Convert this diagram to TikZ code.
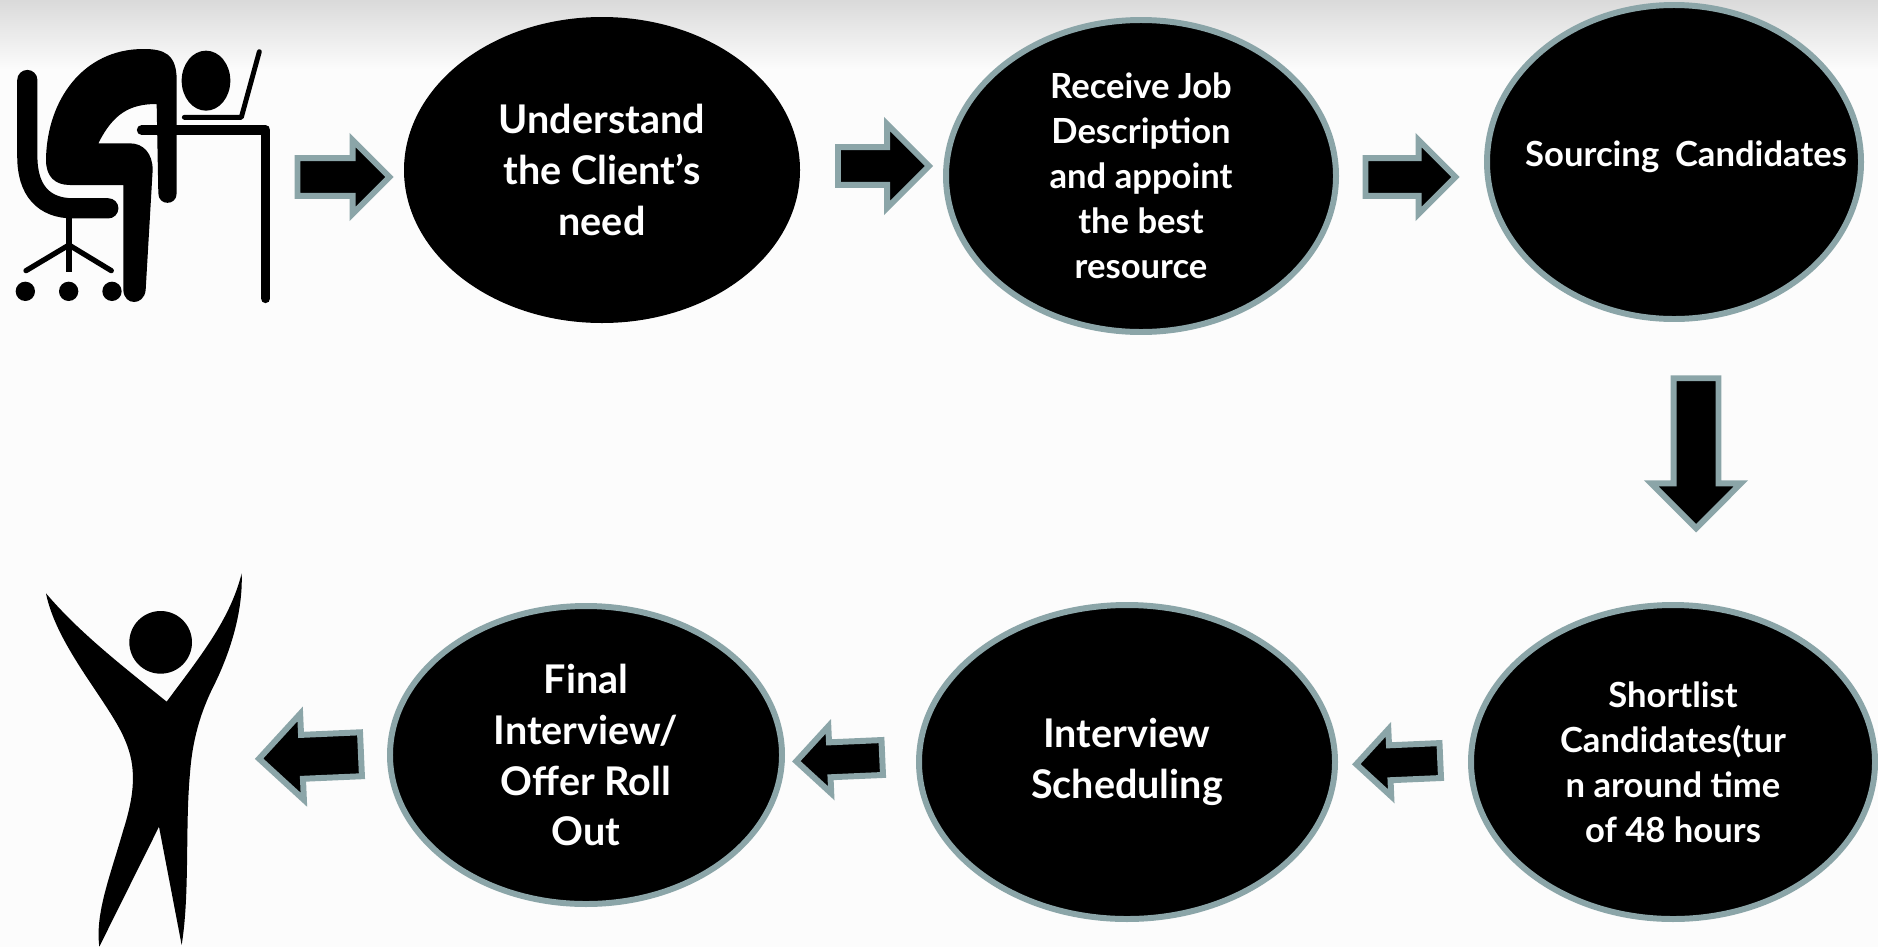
\documentclass[tikz,border=0pt]{standalone}
\usepackage{fontspec}
\setmainfont{Lato}
\usetikzlibrary{shapes.geometric}
\usetikzlibrary{shapes.arrows}
\definecolor{rim}{HTML}{8BA5A8}
\definecolor{paper}{HTML}{FCFCFC}
\definecolor{topgrey}{HTML}{DADADA}
\tikzset{
  stage/.style n args={2}{ellipse,fill=black,draw=rim,line width=3.4pt,inner sep=-4pt,
    minimum width=#1*0.02cm,minimum height=#2*0.02cm,text=white,align=center},
  bigtext/.style={font=\fontsize{22.5}{29}\bfseries},
  smalltext/.style={font=\fontsize{19.7}{25.6}\bfseries},
  flow/.style n args={3}{single arrow,fill=black,draw=rim,line width=3.4pt,inner xsep=0pt,
    inner ysep=#2*0.01cm,minimum height=#1*0.02cm,single arrow head extend=#3*0.02cm},
}

\begin{document}
\begin{tikzpicture}[x=0.02cm,y=-0.02cm]

\fill[paper] (0,0) rectangle (1878,947);
\shade[top color=topgrey,bottom color=paper] (0,0) rectangle (1878,70);

\node[stage={396}{306},draw=none,bigtext] (understand) at (602,170) {Understand\\the Client’s\\need};
\node[stage={390}{312},smalltext] (receive) at (1141,176) {Receive Job\\Description\\and appoint\\the best\\resource};
\node[stage={374}{314}] (sourcing) at (1674,162) {};
\node[smalltext,text=white,inner sep=0pt] (sourcingtext) at (1686,157) {Sourcing\hspace{9pt}Candidates};
\node[stage={404}{314},smalltext] (shortlist) at (1673,762) {Shortlist\\Candidates(tur\\n around time\\of 48 hours};
\node[stage={416}{314},bigtext] (scheduling) at (1127,762) {Interview\\Scheduling};
\node[stage={392}{298},bigtext] (final) at (586,755) {Final\\Interview/\\Offer Roll\\Out};

\node[flow={92}{32}{18}] (arrowa) at (334,177) {};
\node[flow={91}{32}{23}] (arrowb) at (874,166) {};
\node[flow={90}{32}{18}] (arrowc) at (1401,177) {};
\node[flow={150}{39}{22.5},rotate=-90] (arrowd) at (1696,442) {};
\node[flow={84}{29}{16},rotate=182.5] (arrowe) at (1407,762) {};
\node[flow={86}{29}{16},rotate=182.5] (arrowf) at (848,759) {};
\node[flow={102}{38}{21},rotate=182.5] (arrowg) at (321,756) {};

% chair and desk
\begin{scope}[scale=1/3]
\draw[line width=11.5pt,line cap=round] (82,240)--(82,470) .. controls (82,570) and (130,625) .. (220,625)--(325,625);
\draw[line width=3pt] (207,650)--(207,815);
\draw[line width=3pt,line cap=round] (207,735)--(78,812);
\draw[line width=3pt,line cap=round] (207,735)--(334,812);
\fill (76,874) circle (29);
\fill (206,874) circle (29);
\fill (336,874) circle (29);
\fill (430,147) .. controls (490,147) and (530,160) .. (530,240)
  -- (530,580) .. controls (530,618) and (475,618) .. (475,580)
  -- (470,312) .. controls (390,312) and (340,340) .. (295,430)
  -- (390,430) .. controls (430,430) and (458,460) .. (458,510)
  -- (437,870) .. controls (432,918) and (372,918) .. (370,870)
  -- (370,555) -- (210,555) .. controls (165,555) and (138,530) .. (138,480)
  .. controls (140,300) and (250,147) .. (430,147) -- cycle;
\fill (618,242) ellipse (73 and 90);
\draw[line width=2.8pt,line cap=round,line join=round] (553,352)--(724,352)--(778,155);
\draw[line width=5.5pt,line cap=round,line join=round] (425,390)--(797,390)--(797,895);
\end{scope}

% raised arms
\begin{scope}[shift={(0,560)},scale=1/3]
\fill (482,247) circle (94);
\fill (138,100) .. controls (240,220) and (370,320) .. (500,425)
  .. controls (600,290) and (690,180) .. (725,40)
  .. controls (730,170) and (680,300) .. (640,380)
  .. controls (590,480) and (575,570) .. (570,640)
  .. controls (555,800) and (570,1000) .. (545,1155)
  -- (477,800) -- (298,1160)
  .. controls (285,1060) and (330,950) .. (370,810)
  .. controls (405,700) and (410,620) .. (375,540)
  .. controls (330,430) and (170,260) .. (138,100) -- cycle;
\end{scope}

\end{tikzpicture}
\end{document}
